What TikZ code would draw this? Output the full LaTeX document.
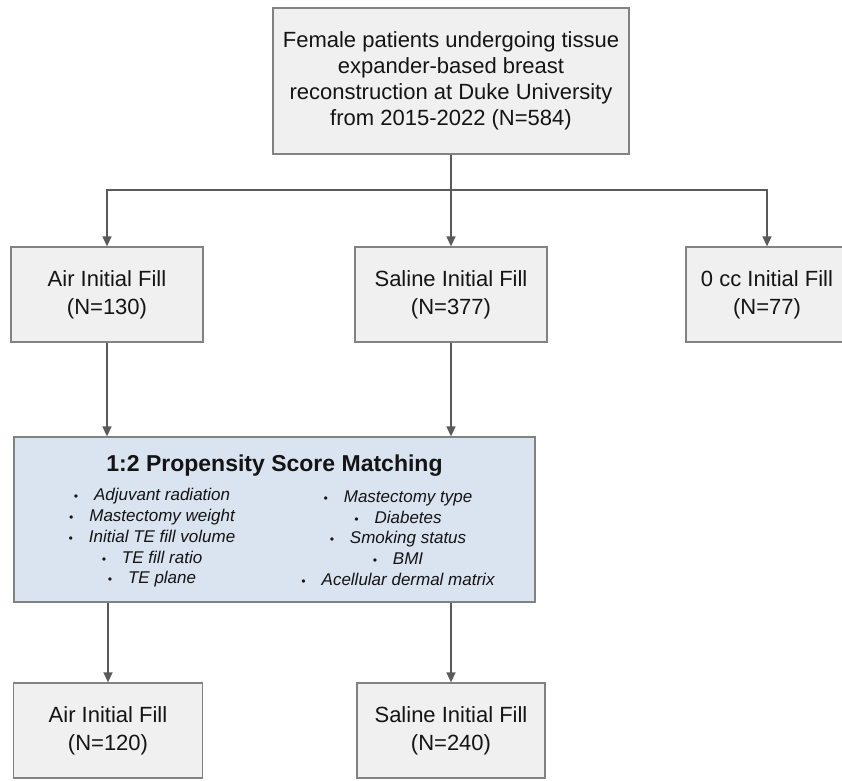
\documentclass[tikz,border=0pt]{standalone}
\usepackage{fontspec}
\setmainfont{Liberation Sans}
\usetikzlibrary{arrows.meta, positioning}

\begin{document}
\begin{tikzpicture}
        [ x=1pt, y=1pt
        , box/.style={draw=border, fill=boxgray, line width=1.3pt, align=center,
                      text=ink, inner sep=0pt}
        , big/.style={font=\fontsize{22}{28}\selectfont}
        , psm/.style={box, fill=psmblue}
        , col/.style={align=center, text=ink, inner sep=0pt,
                      font=\fontsize{17}{20.75}\selectfont\itshape}
        , link/.style={draw=wire, line width=1.4pt}
        , arr/.style={link, -{Triangle[length=10pt, width=9pt]}}
        ]
        \definecolor{boxgray}{RGB}{240,240,240}
        \definecolor{border}{RGB}{130,130,130}
        \definecolor{psmblue}{RGB}{218,227,240}
        \definecolor{wire}{RGB}{90,90,90}
        \definecolor{ink}{RGB}{20,20,20}
        \newcommand{\pt}[1]{{\fontsize{12}{12}\selectfont\textbullet}\hspace{16pt}#1}

        \useasboundingbox (0,0) rectangle (842,-780);

        % cohort
        \node (cohort) [box, minimum width=356, minimum height=146,
                        font=\fontsize{22}{26}\selectfont] at (451,-81)
            {Female patients undergoing tissue\\expander-based breast\\
             reconstruction at Duke University\\from 2015-2022 (N=584)};
        \coordinate (split) at (451,-190);

        % initial fill groups
        \node (air) [box, big, minimum width=192, minimum height=95] at (107,-294.5)
            {Air Initial Fill\\(N=130)};
        \node (saline) [box, big, minimum width=192, minimum height=95] at (451,-294.5)
            {Saline Initial Fill\\(N=377)};
        \node (zero) [box, big, minimum width=162, minimum height=95] at (767,-294.5)
            {0 cc Initial Fill\\(N=77)};

        % matching
        \node (match) [psm, minimum width=521, minimum height=165] at (274.5,-519.5) {};
        \node (matchT) [text=ink, font=\fontsize{23}{23}\selectfont\bfseries]
            at (274.5,-466) {1:2 Propensity Score Matching};
        \node (matchL) [col] at (152,-538)
            {\pt{Adjuvant radiation}\\\pt{Mastectomy weight}\\\pt{Initial TE fill volume}\\
             \pt{TE fill ratio}\\\pt{TE plane}};
        \node (matchR) [col] at (398,-538)
            {\pt{Mastectomy type}\\\pt{Diabetes}\\\pt{Smoking status}\\
             \pt{BMI}\\\pt{Acellular dermal matrix}};

        % matched cohorts
        \node (air2) [box, big, minimum width=189, minimum height=95] at (108,-730.5)
            {Air Initial Fill\\(N=120)};
        \node (saline2) [box, big, minimum width=188, minimum height=95] at (451,-730.5)
            {Saline Initial Fill\\(N=240)};

        \draw[link] (cohort.south) -- (split);
        \draw[arr] (split) -| (air.north);
        \draw[arr] (split) -- (saline.north);
        \draw[arr] (split) -| (zero.north);

        \draw[arr] (air.south) -- (air.south |- match.north);
        \draw[arr] (saline.south) -- (saline.south |- match.north);

        \draw[arr] (air2.north |- match.south) -- (air2.north);
        \draw[arr] (saline2.north |- match.south) -- (saline2.north);

    \end{tikzpicture}
\end{document}
